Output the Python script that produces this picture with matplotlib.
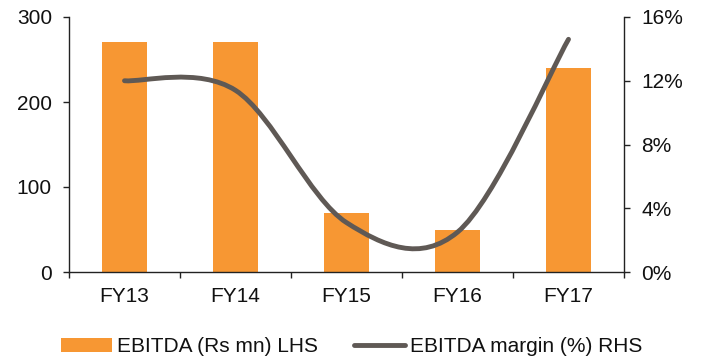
import numpy as np
import matplotlib
matplotlib.use("Agg")
import matplotlib.pyplot as plt
from matplotlib.path import Path
from matplotlib.patches import PathPatch
from matplotlib.lines import Line2D
from matplotlib.patches import Patch

categories = ["FY13", "FY14", "FY15", "FY16", "FY17"]
ebitda = [270, 270, 70, 50, 240]
margin = [12.0, 11.4, 3.1, 2.5, 14.6]
left_ticks = [0, 100, 200, 300]
right_ticks = [0, 4, 8, 12, 16]
right_labels = ["0%", "4%", "8%", "12%", "16%"]

plt.rcParams['font.family'] = ['Liberation Sans', 'DejaVu Sans']
FS = 15
BAR_C = "#F79733"
LINE_C = "#5F5955"
AX_C = "#222222"
TXT_C = "#111111"

fig = plt.figure(figsize=(7.01, 3.63), dpi=100)
ax = fig.add_axes([69/701, 91/363, 555/701, 255/363])
ax2 = ax.twinx()

x = np.arange(len(categories))
ax.bar(x, ebitda, width=0.4, color=BAR_C, zorder=2)
ax.set_xlim(-0.5, len(categories) - 0.5)
ax.set_ylim(0, 300)
ax.set_yticks(left_ticks)
ax.set_yticklabels([str(t) for t in left_ticks])
ax.set_xticks(x)
ax.set_xticklabels(categories)
ax.set_xticks(np.arange(-0.5, len(categories)), minor=True)
ax.tick_params(axis='x', which='major', length=0, pad=11, labelsize=FS, labelcolor=TXT_C)
ax.tick_params(axis='x', which='minor', length=4.3, width=1, color=AX_C, direction='out')
ax.tick_params(axis='y', length=4.3, width=1, color=AX_C, labelsize=FS, pad=8, labelcolor=TXT_C)

ax2.set_ylim(0, 16)
ax2.set_yticks(right_ticks)
ax2.set_yticklabels(right_labels)
ax2.tick_params(axis='y', length=4.3, width=1, color=AX_C, labelsize=FS, pad=8, labelcolor=TXT_C)

for a in (ax, ax2):
    a.spines['top'].set_visible(False)
    for s in ('left', 'right', 'bottom'):
        a.spines[s].set_color(AX_C)
        a.spines[s].set_linewidth(1)
ax.spines['right'].set_visible(False)
ax2.spines['left'].set_visible(False)
ax2.spines['bottom'].set_visible(False)

# smoothed line (Catmull-Rom style Bezier through the data points)
px = x.astype(float)
py = np.array(margin, dtype=float)
n = len(px)
verts = [(px[0], py[0])]
codes = [Path.MOVETO]
for i in range(n - 1):
    p0 = (px[max(i - 1, 0)], py[max(i - 1, 0)])
    p1 = (px[i], py[i])
    p2 = (px[i + 1], py[i + 1])
    p3 = (px[min(i + 2, n - 1)], py[min(i + 2, n - 1)])
    c1 = (p1[0] + (p2[0] - p0[0]) / 6, p1[1] + (p2[1] - p0[1]) / 6)
    c2 = (p2[0] - (p3[0] - p1[0]) / 6, p2[1] - (p3[1] - p1[1]) / 6)
    verts += [c1, c2, p2]
    codes += [Path.CURVE4] * 3
path = Path(verts, codes)
ax2.add_patch(PathPatch(path, facecolor='none', edgecolor=LINE_C, lw=3.5,
                        capstyle='round', zorder=3))

handles = [Patch(facecolor=BAR_C, edgecolor='none'),
           Line2D([0], [0], color=LINE_C, lw=3.5, solid_capstyle='round')]
labels = ["EBITDA (Rs mn) LHS", "EBITDA margin (%) RHS"]
leg = fig.legend(handles, labels, loc='center left', bbox_to_anchor=(61/701, 0.045), ncol=2,
                 frameon=False, fontsize=FS, handlelength=2.45, handletextpad=0.25,
                 columnspacing=1.7, borderaxespad=0, borderpad=0)
for t in leg.get_texts():
    t.set_color(TXT_C)

fig.savefig("out.png", dpi=100)
